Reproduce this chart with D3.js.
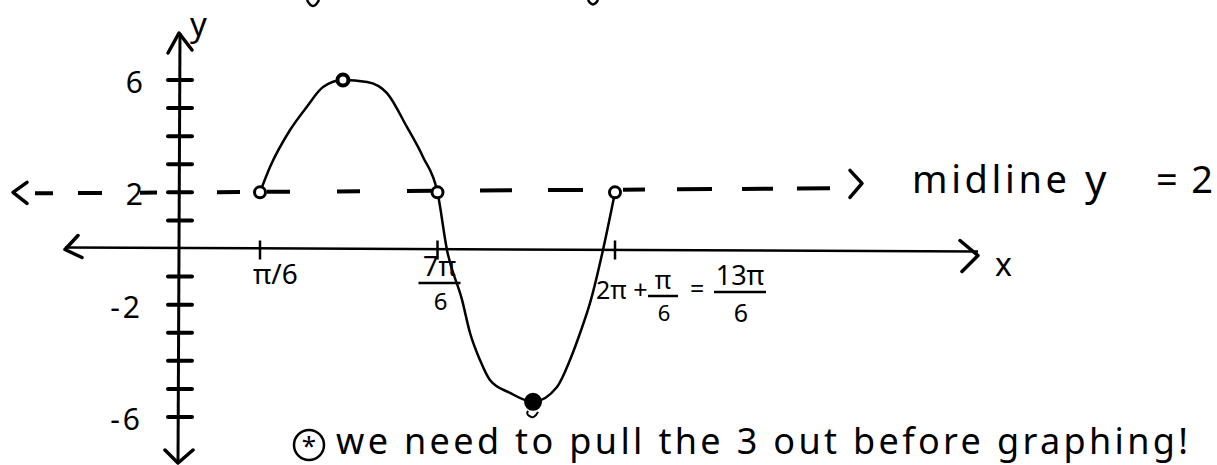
<!DOCTYPE html>
<html>
<head>
<meta charset="utf-8">
<script src="https://cdn.jsdelivr.net/npm/d3@7"></script>
<style>
  html, body { margin: 0; padding: 0; background: #fff; }
  svg { display: block; }
  text { font-family: "Noto Sans", sans-serif; fill: #000; }
</style>
</head>
<body>
<svg id="chart" width="1217" height="465"></svg>
<script>
// Sketched curve: x in multiples of π, y in units
const curveX = [1/6, 0.223, 0.336, 0.431, 0.522, 0.634, 0.770, 0.882, 0.995, 1.085, 7/6,
                1.220, 1.305, 1.350, 1.406, 1.462, 1.575, 1.705, 1.840, 1.913, 1.970, 2.031, 2.099, 13/6];
const curveY = [2, 2.90, 4.22, 5.05, 5.75, 6.0, 5.93, 5.53, 4.32, 3.26, 2,
                -0.05, -1.83, -3.01, -3.97, -4.68, -5.14, -5.46, -4.93, -3.97, -3.01, -1.83, -0.05, 2];

// Marked points on the curve (start, max, midline crossing, min, end)
const keyX = [1/6, 0.634, 7/6, 1.705, 13/6];
const keyY = [2, 6, 2, -5.46, 2];

// Midline value
const midline = 2;

// Axis ticks
const yTicks = [-6, -5, -4, -3, -2, -1, 1, 2, 3, 4, 5, 6];
const yLabelValues = [6, 2, -2, -6];
const yLabels = ["6", "2", "-2", "-6"];
const xTicks = [1/6, 7/6, 13/6];

const svg = d3.select("#chart");

// The sketch is not drawn to scale left of π/6, so the x scale is piecewise
const x = d3.scaleLinear().domain([0, 1/6, 13/6]).range([180, 260, 615]);
const y = d3.scaleLinear().domain([-6, 6]).range([417, 80]);

const ink = "#000";
const x0 = x(0), y0 = y(0);

function chevron(tip, a, b, w) {
  svg.append("path")
    .attr("d", `M${a[0]},${a[1]} L${tip[0]},${tip[1]} L${b[0]},${b[1]}`)
    .attr("fill", "none").attr("stroke", ink)
    .attr("stroke-width", w || 3).attr("stroke-linecap", "round").attr("stroke-linejoin", "round");
}

// ----- y axis -----
svg.append("line").attr("x1", x0).attr("x2", x0 - 2).attr("y1", 33).attr("y2", 463)
  .attr("stroke", ink).attr("stroke-width", 3);
chevron([x0 - 1, 33], [x0 - 12, 53], [x0 + 12, 50], 3.5);
chevron([x0 - 2, 463], [x0 - 15, 450], [x0 + 13, 450], 3.5);

svg.append("g").selectAll("line").data(yTicks).join("line")
  .attr("x1", x0 - 12).attr("x2", x0 + 12)
  .attr("y1", d => y(d)).attr("y2", d => y(d))
  .attr("stroke", ink).attr("stroke-width", 4).attr("stroke-linecap", "round");

svg.append("g").selectAll("text").data(yLabelValues).join("text")
  .attr("x", 143).attr("y", d => y(d) + 13)
  .attr("text-anchor", "end")
  .attr("font-size", 30)
  .attr("letter-spacing", (d, i) => yLabels[i].length > 1 ? 3 : 0)
  .text((d, i) => yLabels[i]);

svg.append("text").attr("x", 190).attr("y", 36).attr("font-size", 33).text("y");

// ----- x axis -----
svg.append("line").attr("x1", 65).attr("x2", 978).attr("y1", y0 - 1).attr("y2", y0 + 3)
  .attr("stroke", ink).attr("stroke-width", 2.5);
chevron([65, y0 + 1], [78, y0 - 13], [82, y0 + 9], 3.5);
chevron([978, y0 + 7], [960, y0 - 8], [962, y0 + 23], 3.5);
svg.append("text").attr("x", 995).attr("y", y0 + 27).attr("font-size", 32).text("x");

svg.append("g").selectAll("line").data(xTicks).join("line")
  .attr("x1", d => x(d)).attr("x2", d => x(d))
  .attr("y1", y0 - 8).attr("y2", y0 + 11)
  .attr("stroke", ink).attr("stroke-width", 2.5);

// x tick labels
const lab = svg.append("g");
function frac(cx, topBase, num, den, size, denSize, half, denBase) {
  lab.append("text").attr("x", cx).attr("y", topBase).attr("text-anchor", "middle")
    .attr("font-size", size).text(num);
  lab.append("line").attr("x1", cx - half).attr("x2", cx + half)
    .attr("y1", topBase + 7).attr("y2", topBase + 7).attr("stroke", ink).attr("stroke-width", 2.5);
  lab.append("text").attr("x", cx + 1).attr("y", denBase).attr("text-anchor", "middle")
    .attr("font-size", denSize).text(den);
}
lab.append("text").attr("x", x(xTicks[0]) - 7).attr("y", 284).attr("font-size", 28).text("π/6");
frac(x(xTicks[1]) + 2, 276, "7π", "6", 27, 24, 21, 310);
lab.append("text").attr("x", 596).attr("y", 299).attr("font-size", 25).text("2π +");
frac(663, 289, "π", "6", 25, 22, 15, 321);
lab.append("text").attr("x", 690).attr("y", 298).attr("font-size", 25).text("=");
frac(740, 285, "13π", "6", 27, 25, 26, 322);

// ----- midline -----
const ym = y(midline);
svg.append("line").attr("x1", 35).attr("x2", 830).attr("y1", ym + 1).attr("y2", ym - 4)
  .attr("stroke", ink).attr("stroke-width", 4)
  .attr("stroke-dasharray", "18 25 24 38 17 60 23 27 23 47 23 47 26 47 32 36 35 40 22 32 35 30 31 24 33");
chevron([13, ym], [27, ym - 10], [27, ym + 11], 3.5);
chevron([862, ym - 9], [850, ym - 22], [850, ym + 5], 3.5);
svg.append("text").attr("x", 912).attr("y", 193).attr("font-size", 38)
  .attr("textLength", 155).attr("lengthAdjust", "spacing").text("midline");
svg.append("text").attr("x", 1085).attr("y", 195).attr("font-size", 42).text("y");
svg.append("text").attr("x", 1156).attr("y", 193).attr("font-size", 38)
  .attr("textLength", 57).attr("lengthAdjust", "spacing").text("=2");

// ----- curve -----
const pts = curveX.map((d, i) => [d, curveY[i]]);
const line = d3.line().x(d => x(d[0])).y(d => y(d[1])).curve(d3.curveMonotoneX);
svg.append("path").datum(pts).attr("d", line)
  .attr("fill", "none").attr("stroke", ink).attr("stroke-width", 2.5)
  .attr("stroke-linejoin", "round");

const minY = d3.min(keyY), maxY = d3.max(keyY);
svg.append("g").selectAll("circle").data(keyX).join("circle")
  .attr("cx", d => x(d)).attr("cy", (d, i) => y(keyY[i]))
  .attr("r", (d, i) => keyY[i] === minY ? 7.5 : 5.5)
  .attr("fill", (d, i) => keyY[i] === minY ? ink : "#fff")
  .attr("stroke", ink).attr("stroke-width", (d, i) => keyY[i] === maxY ? 4 : 3);
// small curl under the minimum
svg.append("path")
  .attr("d", `M${x(keyX[3]) + 5},${y(keyY[3]) + 10} q-4,8 -9,4 q-3,-2 -1,-5`)
  .attr("fill", "none").attr("stroke", ink).attr("stroke-width", 2);

// ----- note -----
svg.append("circle").attr("cx", 309).attr("cy", 445).attr("r", 15)
  .attr("fill", "none").attr("stroke", ink).attr("stroke-width", 2.5);
svg.append("text").attr("x", 309).attr("y", 455).attr("text-anchor", "middle")
  .attr("font-size", 26).text("*");
svg.append("text").attr("x", 336).attr("y", 454).attr("font-size", 36)
  .attr("textLength", 852).attr("lengthAdjust", "spacing")
  .text("we need to pull the 3 out before graphing!");

// descenders of a line above the page edge
svg.append("path").attr("d", "M307,0 q6,12 12,0 M588,0 q5,9 10,0")
  .attr("fill", "none").attr("stroke", ink).attr("stroke-width", 2.5);
</script>
</body>
</html>
